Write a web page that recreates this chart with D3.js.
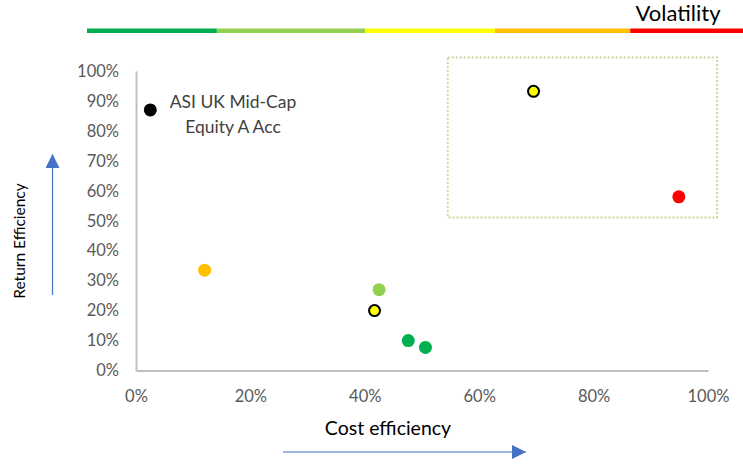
<!DOCTYPE html>
<html>
<head>
<meta charset="utf-8">
<script src="https://cdn.jsdelivr.net/npm/d3@7"></script>
<style>
  html, body { margin: 0; padding: 0; background: #fff; }
  svg { display: block; font-family: Lato, "Open Sans", sans-serif; }
</style>
</head>
<body>
<svg id="chart" width="743" height="464"></svg>
<script>
// Fund efficiency scatter: cost efficiency vs return efficiency, coloured by volatility band
const funds = ["ASI UK Mid-Cap Equity A Acc", "Fund B", "Fund C", "Fund D", "Fund E", "Fund F", "Fund G", "Fund H"];
const costEff = [0.025, 0.12, 0.425, 0.417, 0.476, 0.506, 0.695, 0.949];
const returnEff = [0.87, 0.335, 0.27, 0.20, 0.10, 0.077, 0.932, 0.58];
const volBand = ["black", "orange", "lightgreen", "yellow", "green", "green", "yellow", "red"];
const xTicks = [0, 0.2, 0.4, 0.6, 0.8, 1.0];
const yTicks = [0, 0.1, 0.2, 0.3, 0.4, 0.5, 0.6, 0.7, 0.8, 0.9, 1.0];
const bands = ["green", "lightgreen", "yellow", "orange", "red"];
const bandStops = [0, 0.198, 0.424, 0.622, 0.828, 1.0];
const highlight = { x0: 0.545, x1: 1.016, y0: 0.511, y1: 1.045 };

const bandColor = {
  green: "#00b050", lightgreen: "#92d050", yellow: "#ffff00",
  orange: "#ffc000", red: "#ff0000", black: "#000000"
};

const svg = d3.select("#chart");
const x = d3.scaleLinear().domain([0, 1]).range([136, 708]);
const y = d3.scaleLinear().domain([0, 1]).range([370.5, 71]);

// Volatility scale bar across the top
const barX = d3.scaleLinear().domain([0, 1]).range([87, 743]);
svg.append("g").selectAll("rect").data(bands).join("rect")
  .attr("x", (d, i) => barX(bandStops[i]))
  .attr("width", (d, i) => barX(bandStops[i + 1]) - barX(bandStops[i]))
  .attr("y", 28.5).attr("height", 4.5)
  .attr("fill", d => bandColor[d]);
svg.append("text").attr("x", 678).attr("y", 21).attr("text-anchor", "middle")
  .attr("font-size", 22).attr("fill", "#000").text("Volatility");

// Axes
const axisColor = "#bfbfbf", tickText = "#595959";
const xAxis = svg.append("g").attr("transform", `translate(0,${y(0)})`)
  .call(d3.axisBottom(x).tickValues(xTicks).tickFormat(d3.format(".0%")).tickSize(0).tickPadding(20));
const yAxis = svg.append("g").attr("transform", `translate(${x(0)},0)`)
  .call(d3.axisLeft(y).tickValues(yTicks).tickFormat(d3.format(".0%")).tickSize(0).tickPadding(17));
[xAxis, yAxis].forEach(g => {
  g.select(".domain").attr("stroke", axisColor).attr("stroke-width", 2);
  g.selectAll("text").attr("font-size", 16.5).attr("fill", tickText).attr("font-family", "Lato, sans-serif");
});

// Highlight region
svg.append("rect")
  .attr("x", x(highlight.x0)).attr("y", y(highlight.y1))
  .attr("width", x(highlight.x1) - x(highlight.x0))
  .attr("height", y(highlight.y0) - y(highlight.y1))
  .attr("fill", "none").attr("stroke", "#c6d99e").attr("stroke-width", 2)
  .attr("stroke-dasharray", "2,2");

// Points
svg.append("g").selectAll("circle").data(funds).join("circle")
  .attr("cx", (d, i) => x(costEff[i]))
  .attr("cy", (d, i) => y(returnEff[i]))
  .attr("r", (d, i) => volBand[i] === "yellow" ? 5.5 : 6.5)
  .attr("fill", (d, i) => bandColor[volBand[i]])
  .attr("stroke", (d, i) => volBand[i] === "yellow" ? "#000" : "none")
  .attr("stroke-width", 2);

// Label for the highlighted fund
const lbl = svg.append("text").attr("text-anchor", "middle").attr("font-size", 17.5).attr("fill", "#404040");
lbl.append("tspan").attr("x", 233).attr("y", 108).text("ASI UK Mid-Cap");
lbl.append("tspan").attr("x", 233).attr("y", 133).text("Equity A Acc");

// Axis titles with direction arrows
const arrowColor = "#4472c4";
svg.append("defs").append("marker").attr("id", "arrow")
  .attr("viewBox", "0 0 10 10").attr("refX", 10).attr("refY", 5)
  .attr("markerWidth", 14).attr("markerHeight", 14).attr("markerUnits", "userSpaceOnUse")
  .attr("orient", "auto")
  .append("path").attr("d", "M0,0L10,5L0,10Z").attr("fill", arrowColor);

svg.append("line").attr("x1", 283).attr("x2", 526).attr("y1", 452).attr("y2", 452)
  .attr("stroke", arrowColor).attr("stroke-width", 1.2).attr("marker-end", "url(#arrow)");
svg.append("line").attr("x1", 52.5).attr("x2", 52.5).attr("y1", 295).attr("y2", 154)
  .attr("stroke", arrowColor).attr("stroke-width", 1.2).attr("marker-end", "url(#arrow)");

svg.append("text").attr("x", 388).attr("y", 435).attr("text-anchor", "middle")
  .attr("font-size", 19.5).attr("fill", "#000").text("Cost efficiency");
svg.append("text").attr("transform", "translate(25,241) rotate(-90)").attr("text-anchor", "middle")
  .attr("font-size", 15.5).attr("fill", "#000").text("Return Efficiency");
</script>
</body>
</html>
